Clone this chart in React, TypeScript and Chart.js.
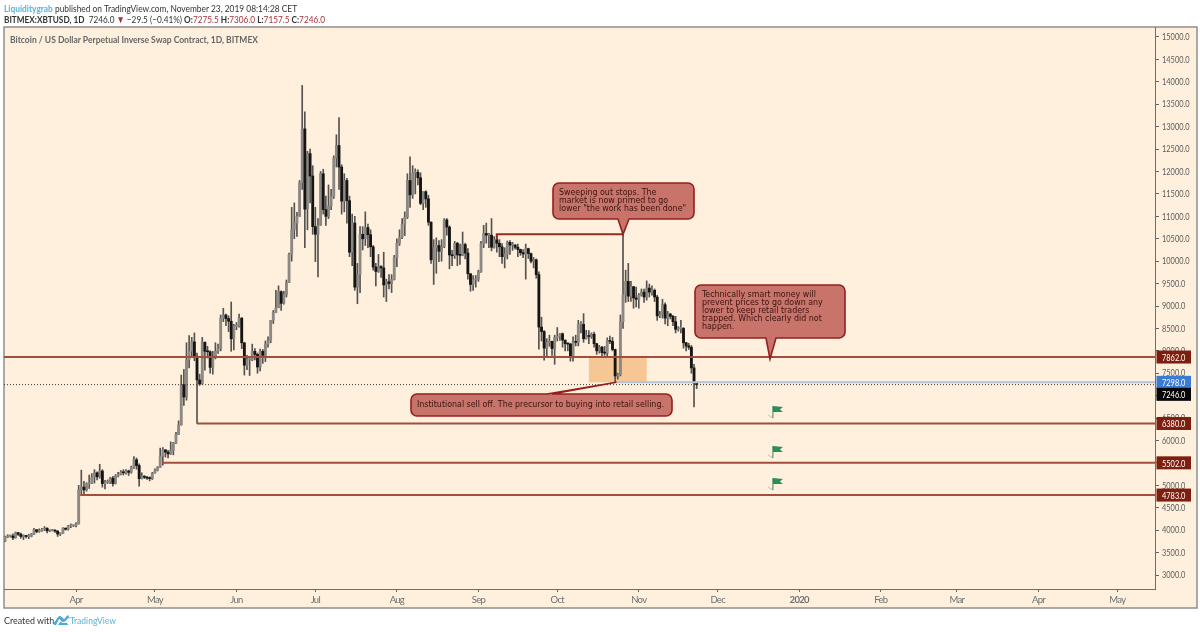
import React, { useEffect, useRef } from "react";
import { Chart, registerables } from "chart.js";

Chart.register(...registerables);

// Day offset from 1 April 2019 of the first candle (5 March 2019)
const firstDay = -27;

const opens = [
  3760,3850,3860,3870,3830,3945,3910,3860,3870,3860,3860,3915,4010,3970,3985,4020,4045,3985,3990,4000,3980,3915,3925,4045,4020,4095,4100,
  4105,4140,4900,4960,4900,5030,5050,5190,5280,5190,5320,5040,5070,5080,5160,5040,5210,5240,5290,5280,5320,5290,5400,5570,5440,5150,5200,5180,5160,5150,
  5270,5330,5400,5650,5790,5740,5700,5780,5940,6140,6350,7250,6970,7800,7990,8200,7880,7350,7260,8190,7990,7980,7630,7880,7990,8050,8730,8800,8720,8660,8270,
  8550,8550,8730,8180,7680,7800,7800,7990,7920,7640,7990,7900,8150,8230,8680,8850,8960,9320,9060,9260,9520,10150,10700,10850,11000,11750,12950,11160,12400,11900,
  10770,10600,10800,11950,11150,11000,11230,11450,12300,12580,12100,11340,11800,11350,10200,10850,9420,9700,10600,10500,10750,10590,10320,9870,9770,9880,9850,9470,9540,9500,9590,
  10080,10400,10530,10820,10980,11800,11480,11970,11980,11860,11290,11550,11390,10870,10030,10300,10350,10220,10320,10920,10760,10140,10120,10400,10140,10130,10370,10180,9720,9480,9590,
  9600,9770,10390,10620,10580,10580,10310,10480,10400,10320,10100,10160,10420,10360,10360,10310,10260,10190,10160,10280,10170,10000,10030,9700,8530,8430,8060,8190,8210,8050,
  8300,8320,8380,8240,8160,8150,7860,8200,8190,8590,8590,8270,8340,8320,8370,8160,8000,8080,7960,7950,8230,8210,8030,7440,7470,8650,9250,9550,9220,9430,9180,
  9150,9240,9310,9200,9400,9310,9350,9200,8780,8810,9030,8730,8820,8770,8650,8480,8500,8500,8180,8110,8080,7620,7275.5,
];
const highs = [
  3870,3900,3895,3920,3960,3950,3935,3895,3885,3910,3930,4040,4015,4030,4040,4080,4055,4010,4020,4005,3990,3945,4060,4050,4110,4140,4115,
  4170,5000,5340,5090,5060,5230,5260,5350,5300,5470,5350,5110,5120,5180,5200,5240,5290,5330,5350,5350,5340,5430,5640,5610,5480,5280,5220,5200,5190,5290,
  5370,5420,5830,5840,5800,5780,5970,5960,6180,6440,7460,7590,8180,8340,8300,8400,7950,7480,8300,8200,8100,8000,7990,8180,8150,8800,8950,8820,8780,9090,8590,
  8630,8820,8740,8180,7900,7880,8150,8050,7950,8040,8030,8220,8310,8680,8900,9350,9450,9340,9330,9580,10180,11200,11300,11090,11800,13920,13330,12450,12500,12130,
  11200,10950,12000,12050,11450,11700,11600,12350,12820,13200,12150,11950,11850,11450,11050,11000,9950,10770,10770,11100,10830,10700,10350,9950,10150,9900,10200,9600,9700,9700,10130,
  10500,10700,10950,11100,11950,12330,12130,12060,12040,11970,11550,11570,11470,10880,10480,10520,10460,10480,10950,10950,10790,10240,10440,10420,10380,10650,10400,10280,9720,9680,9680,
  9800,10440,10800,10850,10620,10950,10550,10600,10480,10390,10300,10450,10460,10420,10370,10380,10270,10260,10380,10290,10180,10080,10050,9760,8750,8450,8270,8350,8220,8350,
  8520,8390,8400,8240,8180,8170,8310,8350,8680,8650,8830,8460,8450,8400,8420,8170,8120,8100,8100,8290,8330,8300,8040,7500,8800,10600,9800,9950,9550,9440,9420,
  9280,9380,9380,9560,9490,9450,9380,9240,8880,9150,9070,8880,8840,8790,8770,8540,8680,8520,8190,8170,8120,7700,7306,
];
const lows = [
  3745,3830,3845,3790,3820,3880,3820,3790,3830,3810,3850,3900,3940,3950,3970,3990,3940,3965,3980,3950,3860,3880,3920,4000,4000,4055,4080,
  4070,4135,4780,4790,4870,4930,5040,5050,5120,5160,4960,4920,5040,5040,4980,5030,5190,5230,5230,5250,5220,5270,5380,5360,4980,5140,5150,5130,5100,5130,
  5270,5320,5400,5450,5630,5610,5690,5680,5930,6130,6340,6780,6900,7620,7850,7780,6380,7230,7260,7570,7840,7500,7480,7820,7940,8000,8650,8560,8430,7990,8020,
  8470,8530,8050,7460,7580,7450,7780,7800,7500,7550,7720,7760,8080,8180,8610,8850,8960,8900,9040,9200,9520,10000,10500,10550,11000,11600,10300,10700,11300,10600,
  9990,9650,10800,11050,10800,10950,11150,11400,12100,11600,11050,11100,10850,10100,9900,9350,9050,9300,10250,10350,10300,10100,9800,9450,9750,9640,9200,9100,9380,9300,9580,
  9880,10350,10500,10570,10950,11200,11400,11500,11700,11260,11150,11200,10800,9950,9480,9730,9990,10000,10300,10580,9830,9900,10060,9900,9930,10120,10050,9600,9330,9350,9420,
  9550,9750,10300,10400,10300,10230,10290,10200,10100,9950,9850,10050,10150,10240,10270,10100,10130,10080,9600,10060,9960,9850,9620,8040,8220,7790,7880,8100,7900,7700,
  8220,8230,8080,8000,8000,7770,7770,8110,8110,8400,8190,8260,8160,8280,8080,7920,7950,7850,7900,7880,8160,8000,7300,7370,7440,8500,9080,9100,9100,8950,8980,
  8950,9220,9080,9130,9200,9240,9100,8680,8740,8730,8600,8560,8710,8560,8400,8440,8400,8060,8000,8030,7500,6750,7157.5,
];
const closes = [
  3850,3860,3870,3830,3945,3910,3860,3870,3860,3860,3915,4010,3970,3985,4020,4045,3985,3990,4000,3980,3915,3925,4045,4020,4095,4100,4105,
  4140,4900,4960,4900,5030,5050,5190,5280,5190,5320,5040,5070,5080,5160,5040,5210,5240,5290,5280,5320,5290,5400,5570,5440,5150,5200,5180,5160,5150,5270,
  5330,5400,5650,5790,5740,5700,5780,5940,6140,6350,7250,6970,7800,7990,8200,7880,7350,7260,8190,7990,7980,7630,7880,7990,8050,8730,8800,8720,8660,8270,8550,
  8550,8730,8180,7680,7800,7800,7990,7920,7640,7990,7900,8150,8230,8680,8850,8960,9320,9060,9260,9520,10150,10700,10850,11000,11750,12950,11160,12400,11900,10770,
  10600,10800,11950,11150,11000,11230,11450,12300,12580,12100,11340,11800,11350,10200,10850,9420,9700,10600,10500,10750,10590,10320,9870,9770,9880,9850,9470,9540,9500,9590,10080,
  10400,10530,10820,10980,11800,11480,11970,11980,11860,11290,11550,11390,10870,10030,10300,10350,10220,10320,10920,10760,10140,10120,10400,10140,10130,10370,10180,9720,9480,9590,9600,
  9770,10390,10620,10580,10580,10310,10480,10400,10320,10100,10160,10420,10360,10360,10310,10260,10190,10160,10280,10170,10000,10030,9700,8530,8430,8060,8190,8210,8050,8300,
  8320,8380,8240,8160,8150,7860,8200,8190,8590,8590,8270,8340,8320,8370,8160,8000,8080,7960,7950,8230,8210,8030,7440,7470,8650,9250,9550,9220,9430,9180,9150,
  9240,9310,9200,9400,9310,9350,9200,8780,8810,9030,8730,8820,8770,8650,8480,8500,8500,8180,8110,8080,7620,7280,7246,
];

const monthDays = [0, 30, 61, 91, 122, 153, 183, 214, 244, 275, 306, 335, 366, 396];
const monthLabels = ["Apr", "May", "Jun", "Jul", "Aug", "Sep", "Oct", "Nov", "Dec", "2020", "Feb", "Mar", "Apr", "May"];
const priceTicks = [3000, 3500, 4000, 4500, 5000, 5500, 6000, 6500, 7000, 7500, 8000, 8500, 9000, 9500, 10000, 10500, 11000, 11500, 12000, 12500, 13000, 13500, 14000, 14500, 15000];

const dayMin = -27.4;
const dayMax = 410.3;
const priceMin = 2688;
const priceMax = 15223;

const level7862 = 7862;
const level6380 = 6380;
const level5502 = 5502;
const level4783 = 4783;
const lastPrice = 7246;
const prevPrice = 7298;
const sweepHigh = 10600;
const flagPrices = [6500, 5610, 4895];
const flagDay = 265;
const zoneDays = [195, 217];
const zonePrices = [7298, 7862];

const sweepLines = ["Sweeping out stops. The", "market is now primed to go", 'lower "the work has been done"'];
const techLines = ["Technically smart money will", "prevent prices to go down any", "lower to keep retail traders", "trapped. Which clearly did not", "happen."];
const instLines = ["Institutional sell off. The precursor to buying into retail selling."];

const priceTags = [
  { label: "7862.0", at: 7862, bg: "#7d1e0e" },
  { label: "7298.0", at: 7298, bg: "#3b7bd4" },
  { label: "7246.0", at: 7030, bg: "#050505" },
  { label: "6380.0", at: 6380, bg: "#7d1e0e" },
  { label: "5502.0", at: 5502, bg: "#7d1e0e" },
  { label: "4783.0", at: 4783, bg: "#7d1e0e" },
];

const days = closes.map((_, i) => firstDay + i);

const LEVEL = "#a04f3f";
const AXIS_FONT = "Lato";
const LABEL_X = 1162;
const LABEL_SQUEEZE = 0.74;

function balloon(
  ctx: CanvasRenderingContext2D,
  box: { x: number; y: number; w: number; h: number },
  tail: { x1: number; x2: number; tipX: number; tipY: number; top: boolean },
  lines: string[],
  textX: number,
  firstY: number
) {
  const { x, y, w, h } = box;
  const r = 6;
  ctx.save();
  ctx.beginPath();
  ctx.moveTo(x + r, y);
  if (tail.top) {
    ctx.lineTo(tail.x1, y);
    ctx.lineTo(tail.tipX, tail.tipY);
    ctx.lineTo(tail.x2, y);
  }
  ctx.lineTo(x + w - r, y);
  ctx.arcTo(x + w, y, x + w, y + r, r);
  ctx.lineTo(x + w, y + h - r);
  ctx.arcTo(x + w, y + h, x + w - r, y + h, r);
  if (!tail.top) {
    ctx.lineTo(tail.x2, y + h);
    ctx.lineTo(tail.tipX, tail.tipY);
    ctx.lineTo(tail.x1, y + h);
  }
  ctx.lineTo(x + r, y + h);
  ctx.arcTo(x, y + h, x, y + h - r, r);
  ctx.lineTo(x, y + r);
  ctx.arcTo(x, y, x + r, y, r);
  ctx.closePath();
  ctx.fillStyle = "#c8746a";
  ctx.fill();
  ctx.lineWidth = 1.6;
  ctx.strokeStyle = "#941f1f";
  ctx.stroke();
  ctx.fillStyle = "#3c1210";
  ctx.font = '8.8px "DejaVu Sans Condensed", "DejaVu Sans"';
  ctx.textAlign = "left";
  ctx.textBaseline = "middle";
  lines.forEach((l, i) => ctx.fillText(l, textX, firstY + i * 8));
  ctx.restore();
}

const framePlugin = {
  id: "frame",
  beforeDraw(chart: any) {
    const { ctx } = chart;
    ctx.save();
    ctx.fillStyle = "#ffffff";
    ctx.fillRect(0, 0, 1200, 632);
    ctx.fillStyle = "#fef0dc";
    ctx.fillRect(4, 27, 1193, 581);
    ctx.strokeStyle = "#8f8f8f";
    ctx.lineWidth = 1.5;
    ctx.strokeRect(4, 27, 1193, 581);
    ctx.restore();
  },
  beforeDatasetsDraw(chart: any) {
    const { ctx, scales } = chart;
    const x0 = scales.x.getPixelForValue(zoneDays[0]);
    const x1 = scales.x.getPixelForValue(zoneDays[1]);
    const y0 = scales.y.getPixelForValue(zonePrices[1]);
    const y1 = scales.y.getPixelForValue(zonePrices[0]);
    ctx.save();
    ctx.fillStyle = "#f6c794";
    ctx.fillRect(x0, y0, x1 - x0, y1 - y0);
    ctx.restore();
  },
  afterDraw(chart: any) {
    const { ctx, scales } = chart;
    const px = (d: number) => scales.x.getPixelForValue(d);
    const py = (p: number) => scales.y.getPixelForValue(p);

    balloon(ctx, { x: 553, y: 183, w: 141, h: 36 }, { x1: 618, x2: 629, tipX: px(208), tipY: py(sweepHigh), top: false }, sweepLines, 559, 193);
    balloon(ctx, { x: 695, y: 285, w: 150, h: 53 }, { x1: 766, x2: 776, tipX: 770, tipY: py(level7862) + 2, top: false }, techLines, 702, 295);
    balloon(ctx, { x: 411, y: 394, w: 261, h: 22 }, { x1: 547, x2: 552, tipX: px(205.5), tipY: py(prevPrice), top: true }, instLines, 417, 405);

    flagPrices.forEach((p) => {
      const x = px(flagDay);
      const y = py(p);
      ctx.save();
      ctx.strokeStyle = "#c9c2b6";
      ctx.lineWidth = 1;
      ctx.beginPath();
      ctx.moveTo(x - 5, y - 3);
      ctx.lineTo(x, y);
      ctx.stroke();
      ctx.strokeStyle = "#2f8a5e";
      ctx.lineWidth = 1;
      ctx.beginPath();
      ctx.moveTo(x, y);
      ctx.lineTo(x, y - 12);
      ctx.stroke();
      ctx.fillStyle = "#2f8a5e";
      ctx.beginPath();
      ctx.moveTo(x, y - 12);
      ctx.lineTo(x + 10, y - 11);
      ctx.lineTo(x + 7, y - 8.5);
      ctx.lineTo(x + 10, y - 6);
      ctx.lineTo(x, y - 6);
      ctx.closePath();
      ctx.fill();
      ctx.restore();
    });

    priceTags.forEach((t) => {
      const yc = py(t.at);
      ctx.save();
      ctx.fillStyle = t.bg;
      ctx.fillRect(1156.5, yc - 6.5, 34.5, 13);
      ctx.fillStyle = "#ffffff";
      ctx.font = `10px ${AXIS_FONT}`;
      ctx.textAlign = "left";
      ctx.textBaseline = "middle";
      ctx.translate(LABEL_X, 0);
      ctx.scale(LABEL_SQUEEZE, 1);
      ctx.fillText(t.label, 0, yc + 0.5);
      ctx.restore();
    });
  },
};

const hLine = (price: number, from: number, to: number, color: string, width: number, dash: number[] = []) => ({
  type: "line" as const,
  data: [
    { x: from, y: price },
    { x: to, y: price },
  ],
  borderColor: color,
  borderWidth: width,
  borderDash: dash,
  pointRadius: 0,
  order: 0,
});

export default function App() {
  const ref = useRef<HTMLCanvasElement>(null);
  useEffect(() => {
    const wicks = days.map((d, i) => ({ x: d, y: [lows[i], highs[i]] }));
    const upBodies = days
      .map((d, i) => ({ x: d, y: [opens[i], closes[i]], up: closes[i] >= opens[i] }))
      .filter((b) => b.up);
    const downBodies = days
      .map((d, i) => ({ x: d, y: [opens[i], closes[i]], up: closes[i] >= opens[i] }))
      .filter((b) => !b.up);
    const chart = new Chart(ref.current!, {
      type: "bar",
      data: {
        datasets: [
          { data: wicks, backgroundColor: "#55524f", barThickness: 1, grouped: false, order: 3 },
          { data: upBodies, backgroundColor: "#8c8984", barThickness: 2.2, grouped: false, minBarLength: 1, order: 2 },
          { data: downBodies, backgroundColor: "#151515", barThickness: 2.2, grouped: false, minBarLength: 1, order: 1 },
          hLine(level7862, dayMin, dayMax, LEVEL, 2),
          hLine(level6380, 46, dayMax, LEVEL, 2),
          hLine(level5502, 32.7, dayMax, LEVEL, 2),
          hLine(level4783, 1.6, dayMax, LEVEL, 2),
          hLine(prevPrice, 205.5, dayMax, "#b4c2d6", 2),
          hLine(lastPrice, dayMin, dayMax, "#333333", 1, [1, 2]),
          {
            type: "line",
            data: [
              { x: 160, y: 10480 },
              { x: 160, y: sweepHigh },
              { x: 208, y: sweepHigh },
            ],
            borderColor: "#8f2f24",
            borderWidth: 2,
            pointRadius: 0,
            order: 0,
          },
        ] as any,
      },
      options: {
        responsive: false,
        animation: false,
        events: [],
        layout: { padding: { left: 4, top: 27, right: 3, bottom: 24 } },
        plugins: { legend: { display: false }, tooltip: { enabled: false }, title: { display: false } },
        scales: {
          x: {
            type: "linear",
            offset: false,
            min: dayMin,
            max: dayMax,
            afterBuildTicks: (s: any) => {
              s.ticks = monthDays.map((value) => ({ value }));
            },
            afterFit: (s: any) => {
              s.height = 19;
              if (!s.__tight) {
                s.__tight = true;
                const draw = s.drawLabels.bind(s);
                s.drawLabels = (area: any) => {
                  const ctx = s.ctx;
                  ctx.save();
                  ctx.letterSpacing = "-0.7px";
                  draw(area);
                  ctx.restore();
                };
              }
            },
            grid: { offset: false, drawOnChartArea: false, drawTicks: true, tickLength: 3, tickColor: "#666666" },
            border: { display: true, color: "#6e6e6e", width: 1 },
            ticks: {
              autoSkip: false,
              maxRotation: 0,
              minRotation: 0,
              padding: 2,
              color: "#6f6f6f",
              font: (c: any) => ({ family: AXIS_FONT, size: 9.5, weight: c.tick && monthLabels[monthDays.indexOf(c.tick.value)] === "2020" ? "bold" : "normal" }),
              callback: (v: any) => monthLabels[monthDays.indexOf(Number(v))] ?? "",
            },
          },
          y: {
            type: "linear",
            position: "right",
            min: priceMin,
            max: priceMax,
            afterBuildTicks: (s: any) => {
              s.ticks = priceTicks.map((value) => ({ value }));
            },
            afterFit: (s: any) => {
              s.width = 42;
              if (!s.__squeezed) {
                s.__squeezed = true;
                s._computeLabelArea = () => undefined;
                const draw = s.drawLabels.bind(s);
                s.drawLabels = (area: any) => {
                  const ctx = s.ctx;
                  ctx.save();
                  ctx.translate(LABEL_X, 0);
                  ctx.scale(LABEL_SQUEEZE, 1);
                  ctx.translate(-LABEL_X, 0);
                  draw(area);
                  ctx.restore();
                };
              }
            },
            grid: { drawOnChartArea: false, drawTicks: true, tickLength: 4, tickColor: "#666666" },
            border: { display: true, color: "#6e6e6e", width: 1 },
            ticks: {
              autoSkip: false,
              padding: 3,
              color: "#5c5c5c",
              font: { family: AXIS_FONT, size: 10 },
              callback: (v: any) => Number(v).toFixed(1),
            },
          },
        },
      },
      plugins: [framePlugin],
    } as any);
    return () => chart.destroy();
  }, []);

  const red = { color: "#a8323c" };
  const squeezed = (k: number) => ({
    fontFamily: "Lato, sans-serif",
    fontSize: 10,
    lineHeight: "14px",
    whiteSpace: "nowrap" as const,
    transform: `scaleX(${k})`,
    transformOrigin: "left center",
    position: "absolute" as const,
  });
  return (
    <div style={{ position: "absolute", left: 0, top: 0, width: 1200, height: 632, overflow: "hidden", background: "#fff" }}>
      <canvas ref={ref} width={1200} height={632} style={{ position: "absolute", left: 0, top: 0, width: 1200, height: 632 }} />
      <div style={{ ...squeezed(0.837), left: 4, top: 1, color: "#333" }}>
        <span style={{ color: "#55b4dc", fontWeight: 700 }}>Liquiditygrab</span> published on TradingView.com, November 23, 2019 08:14:28 CET
      </div>
      <div style={{ ...squeezed(0.823), left: 4, top: 12, color: "#333" }}>
        <b>BITMEX:XBTUSD, 1D</b>&nbsp; 7246.0 <span style={red}>▼</span> −29.5 (−0.41%) <b>O:</b>
        <span style={red}>7275.5</span> <b>H:</b>
        <span style={red}>7306.0</span> <b>L:</b>
        <span style={red}>7157.5</span> <b>C:</b>
        <span style={red}>7246.0</span>
      </div>
      <div style={{ ...squeezed(0.852), left: 10, top: 32, fontWeight: 700, color: "#666" }}>
        Bitcoin / US Dollar Perpetual Inverse Swap Contract, 1D, BITMEX
      </div>
      <div style={{ ...squeezed(0.89), left: 4, top: 613, color: "#333" }}>Created with</div>
      <svg style={{ position: "absolute", left: 54, top: 615 }} width="16" height="10" viewBox="0 0 16 10">
        <path d="M0 10 L0 7 C2 7 3 1 6 1 C8 1 9 4 10 4 C11 4 12 1 14 0 L16 4 L14 3 C13 5 11 7 9 7 C7 7 6 4 5.5 4 C4.5 4 4 7 2 10 Z M4 10 C5 8 6 6.5 7 7 C8 8 10 8.5 12 7.5 C13 8 14 9 14 10 Z" fill="#4fa8d8" />
      </svg>
      <div style={{ ...squeezed(0.85), left: 70, top: 613, color: "#55b4dc" }}>TradingView</div>
    </div>
  );
}
